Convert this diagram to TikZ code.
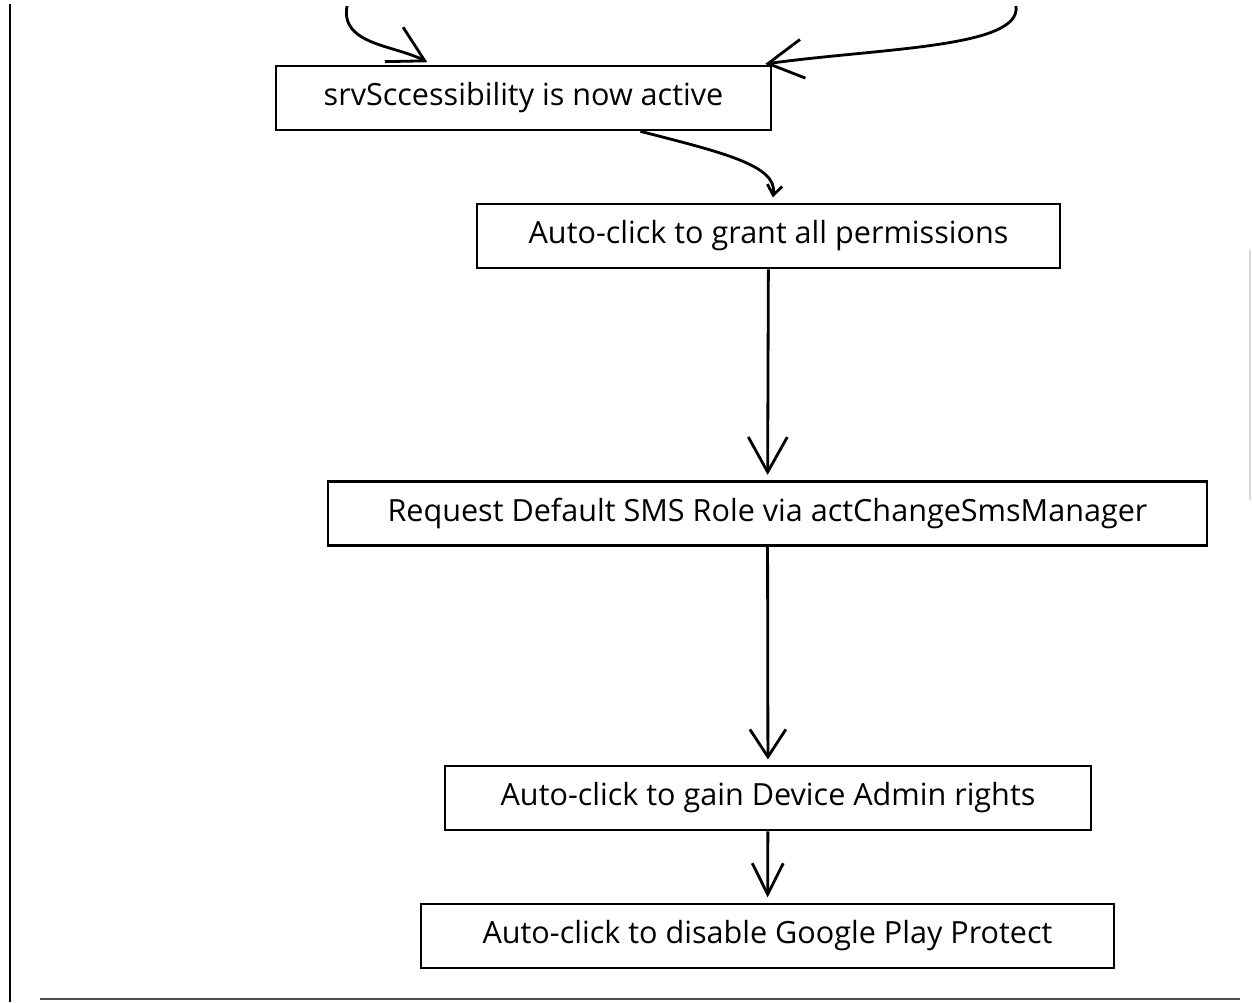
\documentclass[tikz,border=0pt]{standalone}
\usepackage{fontspec}
\setmainfont{Open Sans}
\usetikzlibrary{arrows.meta, positioning}

\begin{document}
\begin{tikzpicture} [%
    x = 0.02cm,
    y = -0.02cm,
    >= { Straight Barb[length=0.7cm, width=0.78cm] },
    every node/.style = {%
      font = \fontsize{17.4}{20}\selectfont },
    stepbox/.style = {%
      draw,
      line width = 1.5pt,
      minimum height = 1.28cm,
      inner sep = 0pt },
    flow/.style = {->, line width = 1.6pt, shorten >= 3pt},
    frameline/.style = {line width = 1.6pt}
  ]

  \useasboundingbox (0,0) rectangle (1252,1002);

  % frame pieces of the page
  \draw[frameline] (10,4) -- (10,1002);
  \draw[frameline, black!70] (40,999) -- (1240,999);
  \draw[line width=1pt, black!15] (1250,250) -- (1250,500);

  \node[stepbox, minimum width=9.9cm]   (active) at (523.5,98)   {srvSccessibility is now active};
  \node[stepbox, minimum width=11.66cm] (grant)  at (768.5,236)  {Auto-click to grant all permissions};
  \node[stepbox, minimum width=17.58cm] (sms)    at (767.5,513.5) {Request Default SMS Role via actChangeSmsManager};
  \node[stepbox, minimum width=12.92cm] (admin)  at (768,798)    {Auto-click to gain Device Admin rights};
  \node[stepbox, minimum width=13.86cm] (play)   at (767.5,936)  {Auto-click to disable Google Play Protect};

  \coordinate (inLeft)  at (347,6);
  \coordinate (inRight) at (1016,6);

  \draw[flow] (inLeft) .. controls (340,45) and (395,45) .. ([xshift=-1.83cm]active.north);
  \draw[flow] (inRight) .. controls (1022,48) and (880,48) .. ([xshift=4.73cm]active.north);
  \draw[flow, >={Straight Barb[length=0.2cm, width=0.3cm]}]
    ([xshift=2.34cm]active.south) .. controls (720,152) and (778,165) .. ([xshift=0.07cm]grant.north);
  \draw[flow] (grant) -- (sms);
  \draw[flow, >={Straight Barb[length=0.55cm, width=0.72cm]}] (sms) -- (admin);
  \draw[flow, >={Straight Barb[length=0.62cm, width=0.62cm]}] (admin) -- (play);

\end{tikzpicture}
\end{document}
